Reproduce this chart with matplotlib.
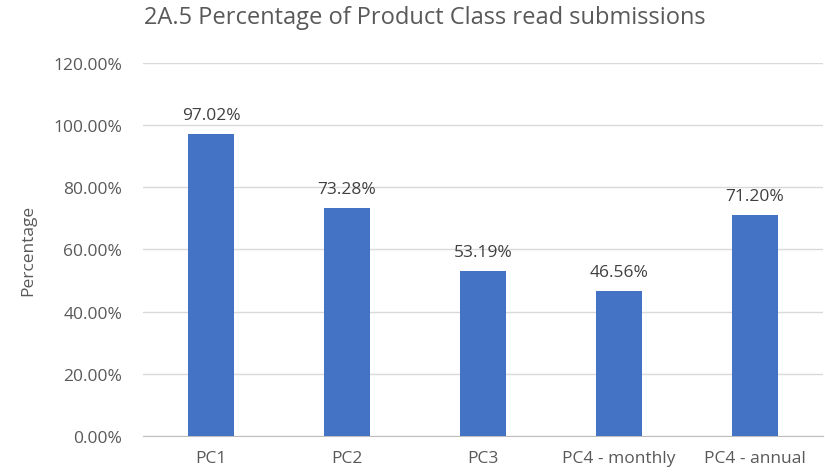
import matplotlib.pyplot as plt
from matplotlib.ticker import FuncFormatter

categories = ["PC1", "PC2", "PC3", "PC4 - monthly", "PC4 - annual"]
values = [97.02, 73.28, 53.19, 46.56, 71.20]
y_ticks = [0, 20, 40, 60, 80, 100, 120]

BAR = "#4472C4"
TXT = "#595959"
GRID = "#D9D9D9"

plt.rcParams["font.family"] = ["Open Sans", "DejaVu Sans"]

fig = plt.figure(figsize=(8.25, 4.77), dpi=100)
ax = fig.add_axes([0.1733, 0.0839, 0.8243, 0.7819])

x = range(len(categories))
ax.bar(x, values, width=0.34, color=BAR, zorder=3)
for xi, v in zip(x, values):
    ax.annotate(f"{v:.2f}%", (xi, v), xytext=(0, 8), textcoords="offset points",
                ha="center", va="bottom", fontsize=12.5, color="#404040")

ax.set_xlim(-0.5, len(categories) - 0.5)
ax.set_ylim(0, 120)
ax.set_yticks(y_ticks)
ax.yaxis.set_major_formatter(FuncFormatter(lambda v, p: f"{v:.2f}%"))
ax.set_xticks(list(x))
ax.set_xticklabels(categories)
ax.tick_params(axis="both", length=0, labelsize=12.5, colors=TXT)
ax.tick_params(axis="x", pad=10)
ax.tick_params(axis="y", pad=15)

ax.grid(axis="y", color=GRID, linewidth=1, zorder=0)
for s in ["top", "right", "left"]:
    ax.spines[s].set_visible(False)
ax.spines["bottom"].set_color("#BFBFBF")

ax.set_ylabel("Percentage", fontsize=12.5, color=TXT, labelpad=12)
fig.text(0.515, 0.962, "2A.5 Percentage of Product Class read submissions",
         ha="center", va="center", fontsize=17, color=TXT)

fig.savefig("out.png", dpi=100)
